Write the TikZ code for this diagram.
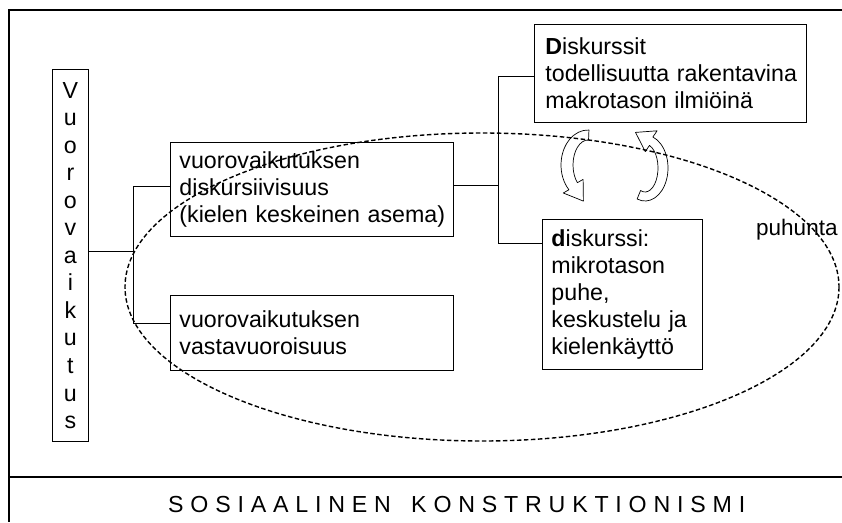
\documentclass[tikz,border=0pt]{standalone}
\usepackage{fontspec}
\setmainfont{Liberation Sans}
\usetikzlibrary{calc}
\begin{document}
\begin{tikzpicture}[x=1pt,y=-1pt,
  every node/.style={font=\fontsize{23.2}{27}\selectfont},
  box/.style={draw, line width=0.9pt, anchor=north west, align=left, inner ysep=0pt, inner xsep=9pt},
  conn/.style={line width=0.9pt},
  frameline/.style={line width=1.2pt},
  arrowshape/.style={draw, fill=white, line width=0.7pt, line join=round},
  ell/.style={line width=1.4pt, dash pattern=on 4.5pt off 2.5pt}]
\useasboundingbox (0,0) rectangle (842,522);
% frame
\draw[frameline] (842,10) -- (9,10) -- (9,522);
\draw[frameline] (9,477) -- (842,477);
% boxes
\node[draw, line width=0.9pt, anchor=north west, inner sep=0pt, minimum width=36pt, minimum height=372pt, align=center,
      font=\fontsize{23.2}{27.55}\selectfont] (vu) at (52,69)
  {V\\u\\o\\r\\o\\v\\a\\i\\k\\u\\t\\u\\s};
\node[box, text width=265pt, minimum height=94pt] (b2) at (170,142)
  {vuorovaikutuksen\\diskursiivisuus\\\mbox{(kielen keskeinen asema)}};
\node[box, text width=265pt, minimum height=75pt] (b3) at (170,295)
  {vuorovaikutuksen\\vastavuoroisuus};
\node[box, inner xsep=11pt, text width=250pt, minimum height=98pt] (bD) at (534,24)
  {\textbf{D}iskurssit\\\mbox{todellisuutta rakentavina}\\\mbox{makrotason ilmiöinä}};
\node[box, text width=142pt, minimum height=150pt] (bd) at (542,219)
  {\textbf{d}iskurssi:\\mikrotason\\puhe,\\\mbox{keskustelu ja}\\kielenkäyttö};
\node[anchor=base west, inner sep=0pt, font=\fontsize{22.5}{27}\selectfont] (puh) at (756,235) {puhunta};
\node[anchor=base west, inner sep=0pt] (title) at (168,512)
  {\makebox[577pt][s]{S O S I A A L I N E N \ \ K O N S T R U K T I O N I S M I}};
% connectors
\coordinate (j1) at (133,251);
\coordinate (y186) at (0,186);
\coordinate (y323) at (0,323);
\coordinate (j2) at (498,185);
\coordinate (y76) at (0,76);
\coordinate (y243) at (0,243);
\draw[conn] (vu.east |- j1) -- (j1);
\draw[conn] (b2.west |- y186) -- (j1 |- y186) -- (j1 |- y323) -- (b3.west |- y323);
\draw[conn] (b2.east |- j2) -- (j2);
\draw[conn] (bD.west |- y76) -- (j2 |- y76) -- (j2 |- y243) -- (bd.west |- y243);
% curved arrows
\coordinate (C1) at (588,165);
\coordinate (C2) at (645,168);
\draw[arrowshape] ($(C1)+(272:27 and 35)$) arc[start angle=272,end angle=135,x radius=27,y radius=35]
  -- (563.3,193.0) -- (583.4,201.1) -- (583.1,179.4)
  -- ($(C1)+(135:15 and 25)$) arc[start angle=135,end angle=272,x radius=15,y radius=25] -- cycle;
\draw[arrowshape] ($(C2)+(110:23 and 33)$) arc[start angle=110,end angle=-70,x radius=23,y radius=33]
  -- (657.1,130.8) -- (635.5,132.4) -- (645.3,151.6)
  -- ($(C2)+(-70:13 and 24)$) arc[start angle=-70,end angle=110,x radius=13,y radius=24] -- cycle;
% ellipse
\draw[ell] (482,287) ellipse [x radius=357, y radius=154];
\end{tikzpicture}
\end{document}
